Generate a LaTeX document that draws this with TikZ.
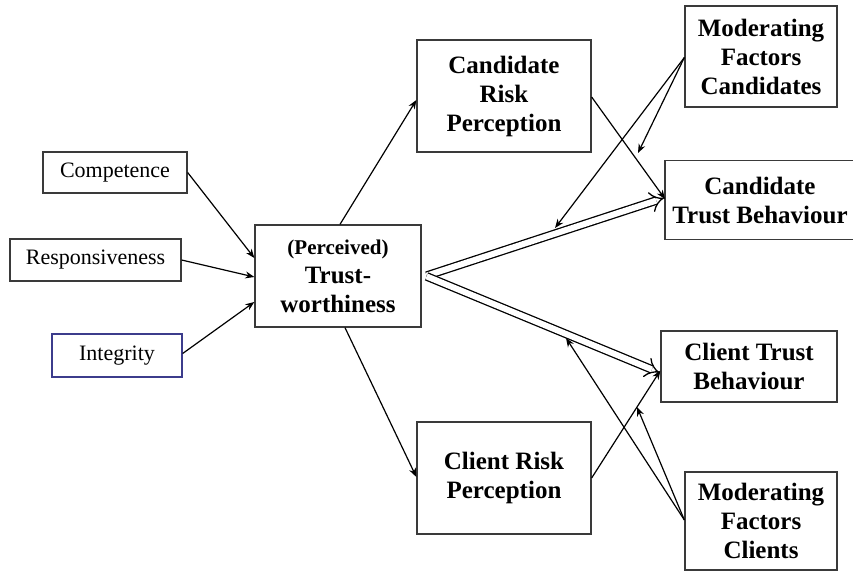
\documentclass[tikz,border=0pt]{standalone}
\usepackage{fontspec}
\setmainfont{Liberation Serif}
\usetikzlibrary{arrows.meta,calc}
\definecolor{boxline}{HTML}{3A3A3A}
\definecolor{bluebox}{HTML}{3C3C8C}
\tikzset{
  factor/.style={draw=boxline, line width=1.3pt, fill=white, inner sep=0pt,
    font=\fontsize{22}{26}\selectfont, align=center},
  concept/.style={draw=boxline, line width=1.3pt, fill=white, inner sep=0pt,
    font=\fontsize{25}{29}\selectfont\bfseries, align=center},
  link/.style={line width=1.2pt, -{Stealth[length=9pt,width=7pt]}},
  path link/.style={line width=1.3pt, double=white, double distance=6pt,
    -{Implies[length=8pt]}, shorten <=1pt},
}
\begin{document}
\begin{tikzpicture}[x=1pt, y=-1pt]
  \useasboundingbox (0,0) rectangle (853,572);

  % antecedents of trustworthiness
  \node[factor, minimum width=144pt, minimum height=41pt] (comp) at (115,172.5) {Competence};
  \node[factor, minimum width=171pt, minimum height=42pt] (resp) at (95.5,260) {Responsiveness};
  \node[factor, draw=bluebox, minimum width=130pt, minimum height=43pt] (integ) at (117,355.5) {Integrity};

  % central construct
  \node[concept, minimum width=166pt, minimum height=102pt] (trust) at (338,276)
    {{\fontsize{21}{25}\selectfont (Perceived)}\\Trust-\\worthiness};

  % risk perceptions
  \node[concept, minimum width=174pt, minimum height=112pt] (crp) at (504,96) {Candidate\\Risk\\Perception};
  \node[concept, minimum width=174pt, minimum height=112pt] (clrp) at (504,478) {Client Risk\\Perception};

  % moderators
  \node[concept, minimum width=152pt, minimum height=101pt] (mfcand) at (761,56.5) {Moderating\\Factors\\Candidates};
  \node[concept, minimum width=152pt, minimum height=98pt] (mfcl) at (761,521) {Moderating\\Factors\\Clients};

  % trust behaviours; the candidate box is open at the right margin
  \node[concept, draw=none, minimum width=190pt, minimum height=78pt, anchor=west] (ctb) at (665,200) {};
  \draw[boxline, line width=1.3pt] (ctb.north east) -- (ctb.north west) -- (ctb.south west) -- (ctb.south east);
  \node[font=\fontsize{25}{29}\selectfont\bfseries, align=center] (ctbtext) at (760,200) {Candidate\\Trust Behaviour};
  \node[concept, minimum width=176pt, minimum height=71pt] (cltb) at (749,366.5) {Client Trust\\Behaviour};

  % antecedents -> trustworthiness
  \draw[link] (comp.east) -- ($(trust.west)+(0,-18)$);
  \draw[link] (resp.east) -- ($(trust.west)+(0,1)$);
  \draw[link] ($(integ.east)+(0,-2)$) -- ($(trust.west)+(0,26)$);

  % trustworthiness -> risk perceptions
  \draw[link] ($(trust.north)+(2,0)$) -- ($(crp.west)+(0,4)$);
  \draw[link] ($(trust.south)+(7,0)$) -- ($(clrp.west)+(0,-1)$);

  % risk perceptions -> trust behaviours
  \draw[link] ($(crp.east)+(0,1)$) -- ($(ctb.west)+(0,-1)$);
  \draw[link] (clrp.east) -- ($(cltb.west)+(0,4)$);

  % direct paths from trustworthiness
  \coordinate (tw) at ($(trust.east)+(4,0)$);
  \draw[path link] (tw) -- ($(ctb.west)+(-1,-2)$);
  \draw[path link] (tw) -- ($(cltb.west)+(-1,6)$);

  % moderation arrows
  \coordinate (modA) at (555,228);
  \coordinate (modB) at (638,153);
  \coordinate (modC) at (566,338);
  \coordinate (modD) at (637,407);
  \draw[link] ($(mfcand.west)+(0,1)$) -- (modA);
  \draw[link] ($(mfcand.west)+(0,1)$) -- (modB);
  \draw[link] ($(mfcl.west)+(0,-1)$) -- (modC);
  \draw[link] ($(mfcl.west)+(0,-1)$) -- (modD);
\end{tikzpicture}
\end{document}
